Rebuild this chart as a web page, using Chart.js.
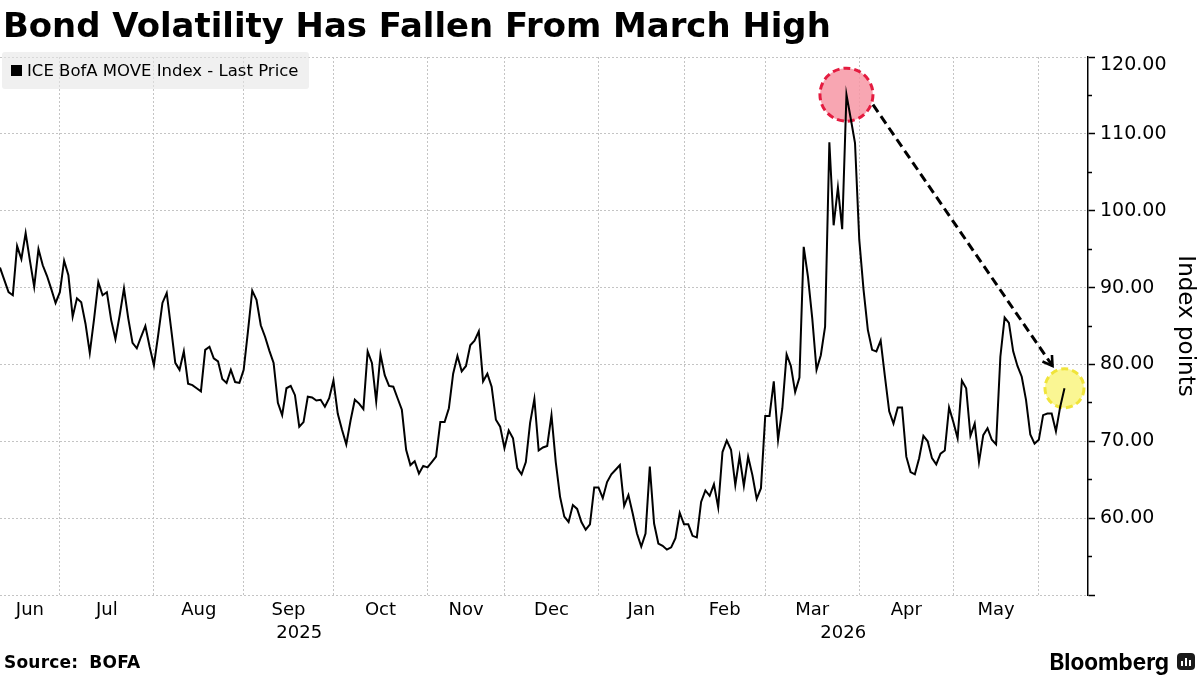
<!DOCTYPE html>
<html>
<head>
<meta charset="utf-8">
<script src="https://cdn.jsdelivr.net/npm/chart.js@4.4.1/dist/chart.umd.min.js"></script>
<style>
  html, body { margin: 0; padding: 0; background: #fff; }
  #wrap { position: relative; width: 1200px; height: 675px; overflow: hidden; font-family: "DejaVu Sans", sans-serif; color: #000; }
  #chartBox { position: absolute; left: 0; top: 0; width: 1200px; height: 675px; }
  #title { position: absolute; left: 3px; top: 9px; font-weight: bold; font-size: 33.9px; line-height: 1; white-space: nowrap; }
  #legend { position: absolute; left: 2px; top: 52px; width: 307px; height: 37px; background: rgba(230,230,230,0.6); border-radius: 3px;
            display: flex; align-items: center; font-size: 16.5px; white-space: nowrap; }
  #legend .sw { width: 11px; height: 11px; background: #000; margin-left: 9px; margin-right: 5px; }
  #source { position: absolute; left: 4px; top: 654px; font-weight: bold; font-size: 17px; line-height: 1; white-space: nowrap; word-spacing: 5px; letter-spacing: 0.2px; }
  #brand { position: absolute; right: 5px; top: 648px; display: flex; align-items: center; gap: 8px; }
  #brand span.name { font-family: Inter, "DejaVu Sans", sans-serif; font-weight: bold; font-size: 22.5px; letter-spacing: 0; }
  #brand .logo { width: 18px; height: 17px; background: #1a1a1a; border-radius: 4px; display: flex; align-items: flex-end; justify-content: center;
                 gap: 2px; padding-bottom: 4px; box-sizing: border-box; }
  #brand .logo i { display: block; width: 2px; background: #fff; }
</style>
</head>
<body>
<div id="wrap">
  <div id="chartBox"><canvas id="moveChart"></canvas></div>
  <div id="title">Bond Volatility Has Fallen From March High</div>
  <div id="legend"><span class="sw"></span><span>ICE BofA MOVE Index - Last Price</span></div>
  <div id="source">Source: BOFA</div>
  <div id="brand"><span class="name">Bloomberg</span><span class="logo"><i style="height:5px"></i><i style="height:8px"></i><i style="height:6px"></i></span></div>
</div>
<script>
// ICE BofA MOVE index, one value per trading day (mid-Jun 2025 .. early Jun 2026)
const moveValues = [
  92.6, 91.0, 89.4, 89.0, 95.4, 93.7, 97.1, 93.5, 90.1, 95.0,
  92.9, 91.5, 89.8, 88.0, 89.4, 93.5, 91.6, 86.2, 88.6, 88.1,
  85.3, 81.5, 85.9, 90.7, 89.0, 89.4, 85.8, 83.3, 86.4, 89.9,
  86.0, 82.8, 82.1, 83.6, 85.0, 82.3, 79.9, 83.8, 88.0, 89.3,
  84.8, 80.2, 79.3, 81.7, 77.5, 77.3, 76.9, 76.5, 81.9, 82.3,
  80.8, 80.4, 78.1, 77.6, 79.3, 77.7, 77.6, 79.3, 84.3, 89.6,
  88.4, 85.1, 83.6, 81.8, 80.2, 75.0, 73.4, 76.9, 77.2, 76.0,
  71.9, 72.5, 75.8, 75.7, 75.3, 75.4, 74.5, 75.6, 77.9, 73.6,
  71.5, 69.6, 72.7, 75.4, 74.9, 74.2, 81.7, 80.2, 75.2, 81.3,
  78.6, 77.2, 77.1, 75.6, 74.1, 68.9, 66.9, 67.4, 65.8, 66.8,
  66.6, 67.3, 68.0, 72.5, 72.5, 74.3, 78.8, 81.1, 79.1, 79.8,
  82.5, 83.1, 84.3, 77.8, 78.8, 77.1, 72.8, 71.9, 69.1, 71.4,
  70.4, 66.5, 65.7, 67.3, 72.4, 75.5, 68.8, 69.2, 69.4, 73.4,
  67.3, 62.8, 60.2, 59.5, 61.7, 61.2, 59.5, 58.5, 59.2, 64.0,
  64.0, 62.6, 64.7, 65.7, 66.3, 66.9, 61.6, 63.0, 60.6, 58.0,
  56.3, 58.0, 66.7, 59.3, 56.7, 56.4, 55.9, 56.2, 57.4, 60.7,
  59.2, 59.2, 57.7, 57.5, 62.1, 63.6, 62.9, 64.4, 61.4, 68.6,
  70.1, 68.9, 64.3, 68.0, 64.2, 68.0, 65.6, 62.5, 63.9, 73.3,
  73.3, 77.8, 70.2, 74.3, 81.3, 79.8, 76.4, 78.3, 95.3, 91.4,
  86.0, 79.3, 81.2, 84.9, 108.9, 98.1, 103.0, 97.6, 115.1, 112.0,
  108.8, 96.2, 89.7, 84.5, 81.9, 81.7, 83.1, 78.4, 73.9, 72.3,
  74.4, 74.4, 68.0, 66.0, 65.7, 67.8, 70.7, 70.0, 67.8, 67.0,
  68.4, 68.8, 74.4, 72.5, 70.4, 77.9, 76.9, 70.7, 72.3, 67.3,
  70.8, 71.7, 70.2, 69.6, 81.0, 86.1, 85.4, 81.7, 79.8, 78.4,
  75.4, 70.9, 69.7, 70.2, 73.4, 73.6, 73.6, 71.3, 74.5, 76.9
];

// trading-day index where each month starts (Jul 2025 .. Jun 2026)
const monthStarts = [14, 36, 57, 78, 100, 118, 140, 160, 179, 201, 223, 243];
const monthNames = ['Jun', 'Jul', 'Aug', 'Sep', 'Oct', 'Nov', 'Dec', 'Jan', 'Feb', 'Mar', 'Apr', 'May'];
const yearNames = ['2025', '2026'];
const yearStarts = [0, 140];
const xMax = 254.5;

const yMajorTicks = [50, 60, 70, 80, 90, 100, 110, 120];
const yMinorTicks = [55, 65, 75, 85, 95, 105, 115];

// annotation arrow, in (trading day, index points)
const arrowFrom = [204.2, 113.8];
const arrowTo = [246.2, 79.8];

const monthMids = monthNames.map((m, i) => ((i === 0 ? 0 : monthStarts[i - 1]) + monthStarts[i]) / 2);
const yearMids = yearNames.map((yr, i) => (yearStarts[i] + (i + 1 < yearStarts.length ? yearStarts[i + 1] : xMax)) / 2);

const peakIdx = moveValues.indexOf(Math.max(...moveValues));
const lastIdx = moveValues.length - 1;

function drawCircle(ctx, cx, cy, r, fill, stroke) {
  ctx.save();
  ctx.beginPath();
  ctx.arc(cx, cy, r, 0, Math.PI * 2);
  ctx.fillStyle = fill;
  ctx.fill();
  ctx.setLineDash([7, 4]);
  ctx.lineWidth = 3;
  ctx.strokeStyle = stroke;
  ctx.stroke();
  ctx.restore();
}

const annotations = {
  id: 'annotations',
  beforeDatasetsDraw(chart) {
    const { ctx, scales: { x, y } } = chart;
    drawCircle(ctx, x.getPixelForValue(peakIdx), y.getPixelForValue(moveValues[peakIdx]), 26.5, 'rgba(247,150,164,0.85)', '#e41c40');
    drawCircle(ctx, x.getPixelForValue(lastIdx), y.getPixelForValue(moveValues[lastIdx]), 19.5, 'rgba(250,245,135,0.9)', '#f0e43a');
  },
  afterDatasetsDraw(chart) {
    const { ctx, scales: { x, y } } = chart;
    const x0 = x.getPixelForValue(arrowFrom[0]), y0 = y.getPixelForValue(arrowFrom[1]);
    const x1 = x.getPixelForValue(arrowTo[0]), y1 = y.getPixelForValue(arrowTo[1]);
    const ang = Math.atan2(y1 - y0, x1 - x0);
    ctx.save();
    ctx.strokeStyle = '#000';
    ctx.lineWidth = 3;
    ctx.setLineDash([9, 5]);
    ctx.beginPath();
    ctx.moveTo(x0, y0);
    ctx.lineTo(x1, y1);
    ctx.stroke();
    ctx.setLineDash([]);
    ctx.lineWidth = 2.6;
    ctx.beginPath();
    ctx.moveTo(x1 - 11 * Math.cos(ang - 0.55), y1 - 11 * Math.sin(ang - 0.55));
    ctx.lineTo(x1, y1);
    ctx.lineTo(x1 - 11 * Math.cos(ang + 0.55), y1 - 11 * Math.sin(ang + 0.55));
    ctx.stroke();
    ctx.restore();
  }
};

const gridColor = '#c4c4c4';
const ctx = document.getElementById('moveChart').getContext('2d');
new Chart(ctx, {
  type: 'line',
  data: {
    datasets: [{
      label: 'ICE BofA MOVE Index - Last Price',
      data: moveValues.map((v, i) => ({ x: i, y: v })),
      borderColor: '#000',
      borderWidth: 2,
      pointRadius: 0,
      tension: 0
    }]
  },
  options: {
    responsive: true,
    maintainAspectRatio: false,
    animation: false,
    layout: { padding: { left: 0, right: 0, top: 57, bottom: 30 } },
    plugins: { legend: { display: false }, tooltip: { enabled: false } },
    scales: {
      x: {
        type: 'linear', position: 'bottom', weight: 0, min: 0, max: xMax,
        afterBuildTicks: s => { s.ticks = monthStarts.map(v => ({ value: v })); },
        afterFit: s => { s.height = 0; },
        ticks: { display: false },
        grid: { color: gridColor, lineWidth: 1, drawTicks: false },
        border: { display: false, dash: [2, 2] }
      },
      xm: {
        type: 'linear', position: 'bottom', weight: 1, min: 0, max: xMax,
        afterBuildTicks: s => { s.ticks = monthMids.map(v => ({ value: v })); },
        afterFit: s => { s.height = 24; },
        ticks: {
          autoSkip: false, maxRotation: 0, padding: 5, color: '#000',
          font: { family: 'DejaVu Sans', size: 18 },
          callback: (v, i) => monthNames[i]
        },
        grid: { display: false, drawTicks: false },
        border: { display: false }
      },
      xy: {
        type: 'linear', position: 'bottom', weight: 2, min: 0, max: xMax,
        afterBuildTicks: s => { s.ticks = yearMids.map(v => ({ value: v })); },
        afterFit: s => { s.height = 26; },
        ticks: {
          autoSkip: false, maxRotation: 0, padding: 4, color: '#000',
          font: { family: 'DejaVu Sans', size: 18 },
          callback: (v, i) => yearNames[i]
        },
        grid: { display: false, drawTicks: false },
        border: { display: false }
      },
      y2: {
        position: 'right', weight: 0, min: 50, max: 120,
        afterBuildTicks: s => { s.ticks = yMinorTicks.map(v => ({ value: v })); },
        afterFit: s => { s.width = 0; },
        ticks: { display: false },
        grid: { drawOnChartArea: false, tickLength: 4, tickColor: '#000', tickWidth: 1.5 },
        border: { display: false }
      },
      y: {
        position: 'right', weight: 1, min: 50, max: 120,
        afterBuildTicks: s => { s.ticks = yMajorTicks.map(v => ({ value: v })); },
        afterFit: s => { s.width = 112; },
        ticks: {
          color: '#000', padding: 5,
          font: { family: 'DejaVu Sans', size: 19, lineHeight: 0.85 },
          callback: v => v === 50 ? '' : (v === 120 ? ['', v.toFixed(2)] : v.toFixed(2))
        },
        grid: { color: gridColor, lineWidth: 1, tickColor: '#000', tickLength: 7, tickWidth: 1.5 },
        border: { display: true, color: '#000', width: 1.5, dash: [2, 2] },
        title: {
          display: true, text: 'Index points', color: '#000',
          font: { family: 'DejaVu Sans', size: 23 },
          padding: { top: 1, bottom: 0 }
        }
      }
    }
  },
  plugins: [annotations]
});
</script>
</body>
</html>
